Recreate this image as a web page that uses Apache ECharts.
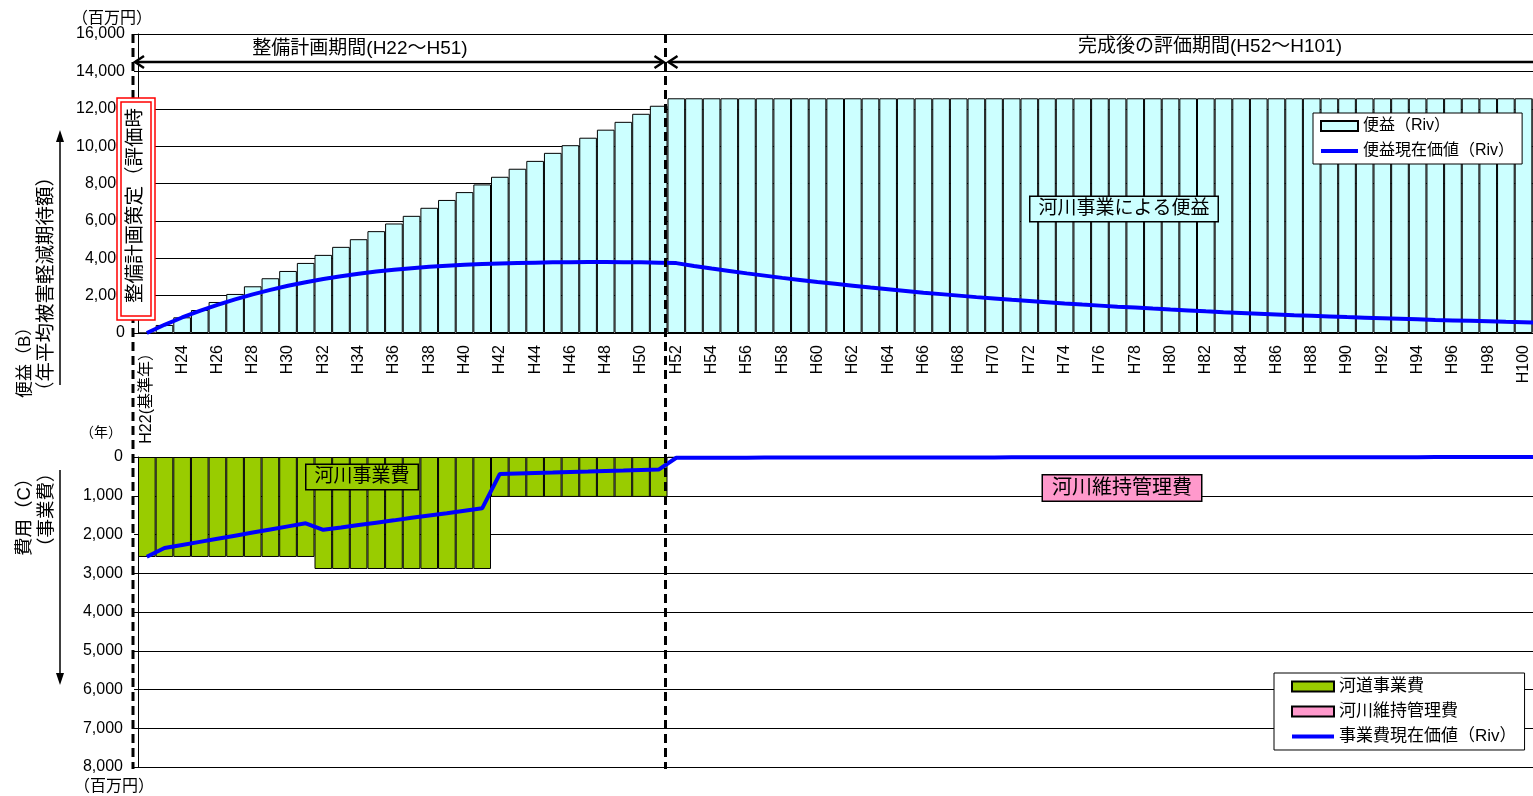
<!DOCTYPE html>
<html>
<head>
<meta charset="utf-8">
<script src="https://cdn.jsdelivr.net/npm/echarts@6/dist/echarts.min.js"></script>
<style>
html, body { margin: 0; padding: 0; background: #fff; overflow: hidden; }
#c { width: 1550px; height: 796px; }
</style>
</head>
<body>
<div id="c"></div>
<script>
// Fiscal years (Heisei) from the base year to the end of the evaluation period
const years = [
  'H22','H23','H24','H25','H26','H27','H28','H29','H30','H31',
  'H32','H33','H34','H35','H36','H37','H38','H39','H40','H41',
  'H42','H43','H44','H45','H46','H47','H48','H49','H50','H51',
  'H52','H53','H54','H55','H56','H57','H58','H59','H60','H61',
  'H62','H63','H64','H65','H66','H67','H68','H69','H70','H71',
  'H72','H73','H74','H75','H76','H77','H78','H79','H80','H81',
  'H82','H83','H84','H85','H86','H87','H88','H89','H90','H91',
  'H92','H93','H94','H95','H96','H97','H98','H99','H100','H101'
];
const baseYearLabel = 'H22(基準年）';

// Annual benefit (expected reduction of average annual flood damage), million yen
const benefit = [
  0, 430, 840, 1230, 1660, 2090, 2500, 2930, 3320, 3750,
  4180, 4610, 5020, 5450, 5860, 6270, 6700, 7120, 7540, 7950,
  8360, 8790, 9210, 9640, 10050, 10450, 10880, 11300, 11730, 12160,
  12560, 12560, 12560, 12560, 12560, 12560, 12560, 12560, 12560, 12560,
  12560, 12560, 12560, 12560, 12560, 12560, 12560, 12560, 12560, 12560,
  12560, 12560, 12560, 12560, 12560, 12560, 12560, 12560, 12560, 12560,
  12560, 12560, 12560, 12560, 12560, 12560, 12560, 12560, 12560, 12560,
  12560, 12560, 12560, 12560, 12560, 12560, 12560, 12560, 12560, 12560
];

// Present value of the benefit
const benefitPV = [
  0, 440, 830, 1180, 1500, 1800, 2070, 2310, 2530, 2720,
  2890, 3040, 3170, 3290, 3390, 3470, 3540, 3600, 3650, 3690,
  3720, 3745, 3765, 3780, 3790, 3795, 3795, 3790, 3780, 3765,
  3740, 3590, 3450, 3320, 3190, 3070, 2950, 2840, 2730, 2630,
  2530, 2430, 2340, 2250, 2160, 2080, 2000, 1920, 1850, 1780,
  1715, 1650, 1580, 1520, 1465, 1410, 1360, 1305, 1255, 1210,
  1160, 1115, 1075, 1035, 995, 955, 920, 885, 850, 820,
  790, 760, 730, 700, 675, 650, 625, 600, 580, 555
];

// Channel works cost, million yen
const riverWorks = [
  2580, 2580, 2580, 2580, 2580, 2580, 2580, 2580, 2580, 2580,
  2890, 2890, 2890, 2890, 2890, 2890, 2890, 2890, 2890, 2890,
  1030, 1030, 1030, 1030, 1030, 1030, 1030, 1030, 1030, 1030,
  null, null, null, null, null, null, null, null, null, null,
  null, null, null, null, null, null, null, null, null, null,
  null, null, null, null, null, null, null, null, null, null,
  null, null, null, null, null, null, null, null, null, null,
  null, null, null, null, null, null, null, null, null, null
];

// River maintenance cost, million yen
const maintenance = [
  null, null, null, null, null, null, null, null, null, null,
  null, null, null, null, null, null, null, null, null, null,
  null, null, null, null, null, null, null, null, null, null,
  20, 20, 20, 20, 20, 20, 20, 20, 20, 20,
  20, 20, 20, 20, 20, 20, 20, 20, 20, 20,
  20, 20, 20, 20, 20, 20, 20, 20, 20, 20,
  20, 20, 20, 20, 20, 20, 20, 20, 20, 20,
  20, 20, 20, 20, 20, 20, 20, 20, 20, 20
];

// Present value of the project cost
const costPV = [
  2575, 2350, 2270, 2190, 2110, 2030, 1950, 1870, 1790, 1710,
  1880, 1820, 1755, 1695, 1635, 1570, 1510, 1450, 1385, 1325,
  436, 424, 412, 400, 387, 375, 362, 350, 337, 325,
  20, 19, 18, 18, 17, 16, 16, 15, 14, 14,
  13, 13, 12, 12, 11, 11, 10, 10, 10, 9,
  9, 9, 8, 8, 8, 7, 7, 7, 6, 6,
  6, 6, 5, 5, 5, 5, 5, 4, 4, 4,
  4, 4, 4, 3, 3, 3, 3, 3, 3, 3
];

const FONT = "'Liberation Sans', 'Noto Sans CJK JP', sans-serif";
const BLACK = '#000';
const BLUE = '#0000FF';

const chart = echarts.init(document.getElementById('c'), null, { renderer: 'canvas' });

// legend entry helpers: plain rectangles for bars, a bare thick line for the PV curves
const barEntry = name => ({ name: name, icon: 'rect' });
const lineEntry = name => ({ name: name, itemStyle: { opacity: 0 }, lineStyle: { width: 4, color: BLUE } });

const option = {
  animation: false,
  textStyle: { fontFamily: FONT, color: BLACK },
  grid: [
    { left: 138, right: 0, top: 34, bottom: 463 },
    { left: 138, right: 0, top: 457, bottom: 29 }
  ],
  xAxis: [
    {
      gridIndex: 0, type: 'category', data: years,
      axisLine: { lineStyle: { color: BLACK, width: 1 } },
      axisTick: { show: false },
      axisLabel: {
        interval: 1, rotate: 90, fontSize: 16, color: BLACK, margin: 12, fontFamily: FONT,
        formatter: v => (v === 'H22' ? baseYearLabel : v)
      },
      splitLine: { show: false }
    },
    {
      gridIndex: 1, type: 'category', data: years, position: 'top',
      axisLine: { onZero: false, lineStyle: { color: BLACK, width: 1 } },
      axisTick: { inside: true, length: 4, lineStyle: { color: BLACK } },
      axisLabel: { show: false },
      splitLine: { show: false }
    }
  ],
  yAxis: [
    {
      gridIndex: 0, type: 'value', min: 0, max: 16000, interval: 2000,
      axisLine: { show: true, lineStyle: { color: BLACK } },
      axisTick: { show: true, length: 4, lineStyle: { color: BLACK } },
      axisLabel: { fontSize: 16, color: BLACK, margin: 13, fontFamily: FONT,
        formatter: v => v.toLocaleString('en-US') },
      splitLine: { lineStyle: { color: BLACK, width: 1 } }
    },
    {
      gridIndex: 1, type: 'value', min: 0, max: 8000, interval: 1000, inverse: true,
      axisLine: { show: true, lineStyle: { color: BLACK } },
      axisTick: { show: true, length: 4, lineStyle: { color: BLACK } },
      axisLabel: { fontSize: 16, color: BLACK, margin: 15, fontFamily: FONT,
        formatter: v => v.toLocaleString('en-US') },
      splitLine: { lineStyle: { color: BLACK, width: 1 } }
    }
  ],
  legend: [
    {
      left: 1313, top: 113, orient: 'vertical', selectedMode: false,
      data: [barEntry('便益（Riv）'), lineEntry('便益現在価値（Riv）')],
      backgroundColor: '#fff', borderColor: BLACK, borderWidth: 1,
      padding: [5, 8, 5, 6], itemGap: 9, itemWidth: 37, itemHeight: 10,
      textStyle: { fontSize: 16, color: BLACK, fontFamily: FONT }
    },
    {
      left: 1274, top: 673, orient: 'vertical', selectedMode: false,
      data: [barEntry('河道事業費'), barEntry('河川維持管理費'), lineEntry('事業費現在価値（Riv）')],
      backgroundColor: '#fff', borderColor: BLACK, borderWidth: 1,
      padding: [5, 8, 5, 16], itemGap: 8, itemWidth: 42, itemHeight: 10,
      textStyle: { fontSize: 17, color: BLACK, fontFamily: FONT }
    }
  ],
  series: [
    {
      name: '便益（Riv）', type: 'bar', xAxisIndex: 0, yAxisIndex: 0,
      data: benefit, barWidth: '100%', barGap: '-100%',
      itemStyle: { color: '#CCFFFF', borderColor: BLACK, borderWidth: 1 }, z: 2
    },
    {
      name: '便益現在価値（Riv）', type: 'line', xAxisIndex: 0, yAxisIndex: 0,
      data: benefitPV, symbol: 'none',
      lineStyle: { color: BLUE, width: 4 }, itemStyle: { color: BLUE }, z: 3
    },
    {
      name: '河道事業費', type: 'bar', xAxisIndex: 1, yAxisIndex: 1,
      data: riverWorks, barWidth: '100%', barGap: '-100%',
      itemStyle: { color: '#99CC00', borderColor: BLACK, borderWidth: 1 }, z: 2
    },
    {
      name: '河川維持管理費', type: 'bar', xAxisIndex: 1, yAxisIndex: 1,
      data: maintenance, barWidth: '100%', barGap: '-100%',
      itemStyle: { color: '#FF99CC', borderColor: BLACK, borderWidth: 1 }, z: 2
    },
    {
      name: '事業費現在価値（Riv）', type: 'line', xAxisIndex: 1, yAxisIndex: 1,
      data: costPV, symbol: 'none',
      lineStyle: { color: BLUE, width: 4 }, itemStyle: { color: BLUE }, z: 3
    }
  ]
};

chart.setOption(option);

// Period dividers and annotations, placed from the axis scales
const cx = c => chart.convertToPixel({ xAxisIndex: 0 }, c);
const catW = cx('H23') - cx('H22');
const xStart = cx('H22') - catW / 2;
const xSplit = cx('H52') - catW / 2;
const yTop = chart.convertToPixel({ yAxisIndex: 0 }, 16000);
const yEnd = chart.convertToPixel({ yAxisIndex: 1 }, 8000);
const yArrow = yTop + 28;

const dash = { stroke: BLACK, lineWidth: 3, lineDash: [9, 5] };
const arrowStroke = { stroke: BLACK, lineWidth: 2.5, fill: null };

function vText(text, x, y, size) {
  return {
    type: 'text', x: x, y: y, rotation: Math.PI / 2, z: 20,
    style: { text: text, fontSize: size, fontFamily: FONT, fill: BLACK, align: 'left', verticalAlign: 'middle' }
  };
}
function boxText(text, x, y, bg, size, padX) {
  return {
    type: 'text', x: x, y: y, z: 20,
    style: {
      text: text, fontSize: size, fontFamily: FONT, fill: BLACK,
      align: 'center', verticalAlign: 'middle',
      backgroundColor: bg, borderColor: BLACK, borderWidth: 1.5, padding: [3, padX, 2, padX]
    }
  };
}
function hText(text, x, y, size) {
  return {
    type: 'text', x: x, y: y, z: 20,
    style: { text: text, fontSize: size, fontFamily: FONT, fill: BLACK, align: 'center', verticalAlign: 'middle' }
  };
}

const graphics = [
  // period dividers
  { type: 'line', z: 15, shape: { x1: xStart - 5, y1: yTop, x2: xStart - 5, y2: yEnd + 2 }, style: dash },
  { type: 'line', z: 15, shape: { x1: xSplit - 2, y1: yTop, x2: xSplit - 2, y2: yEnd + 2 }, style: dash },
  // period arrows
  { type: 'line', z: 15, shape: { x1: xStart - 3, y1: yArrow, x2: xSplit - 4, y2: yArrow }, style: arrowStroke },
  { type: 'polyline', z: 15, shape: { points: [[xStart + 6, yArrow - 6], [xStart - 3, yArrow], [xStart + 6, yArrow + 6]] }, style: arrowStroke },
  { type: 'polyline', z: 15, shape: { points: [[xSplit - 13, yArrow - 6], [xSplit - 4, yArrow], [xSplit - 13, yArrow + 6]] }, style: arrowStroke },
  { type: 'line', z: 15, shape: { x1: xSplit + 1, y1: yArrow, x2: 1550, y2: yArrow }, style: arrowStroke },
  { type: 'polyline', z: 15, shape: { points: [[xSplit + 10, yArrow - 6], [xSplit + 1, yArrow], [xSplit + 10, yArrow + 6]] }, style: arrowStroke },
  hText('整備計画期間(H22～H51)', 360, yTop + 15, 19),
  hText('完成後の評価期間(H52～H101)', 1210, yTop + 13, 19),

  // plan decision marker at the base year
  { type: 'rect', z: 18, shape: { x: 117, y: 98, width: 38, height: 222 }, style: { fill: '#fff', stroke: '#FF0000', lineWidth: 1.5 } },
  { type: 'rect', z: 19, shape: { x: 121, y: 102, width: 30, height: 214 }, style: { fill: 'none', stroke: '#FF0000', lineWidth: 1.5 } },
  vText('整備計画策定（評価時', 136, 303, 19.5),

  // units
  hText('（百万円）', 112, 19, 16),
  hText('（百万円）', 114, 787, 16),
  hText('（年）', 101, 433, 14),

  // axis titles and direction arrows
  vText('便益（B）', 25, 398, 17),
  vText('（年平均被害軽減期待額）', 47, 401, 19.5),
  { type: 'line', z: 15, shape: { x1: 60, y1: 385, x2: 60, y2: 140 }, style: { stroke: BLACK, lineWidth: 1.5 } },
  { type: 'polygon', z: 15, shape: { points: [[60, 130], [56, 142], [64, 142]] }, style: { fill: BLACK } },
  vText('費用（C）', 25, 556, 18.5),
  vText('（事業費）', 47, 556, 18.5),
  { type: 'line', z: 15, shape: { x1: 60, y1: 470, x2: 60, y2: 675 }, style: { stroke: BLACK, lineWidth: 1.5 } },
  { type: 'polygon', z: 15, shape: { points: [[60, 685], [56, 673], [64, 673]] }, style: { fill: BLACK } },

  // labels
  boxText('河川事業による便益', 1124, 209, '#CCFFFF', 19, 8),
  boxText('河川事業費', 362, 477, '#99CC00', 19, 8),
  boxText('河川維持管理費', 1122, 488, '#FF99CC', 20, 9)
];

chart.setOption({ graphic: { elements: graphics } });
</script>
</body>
</html>
